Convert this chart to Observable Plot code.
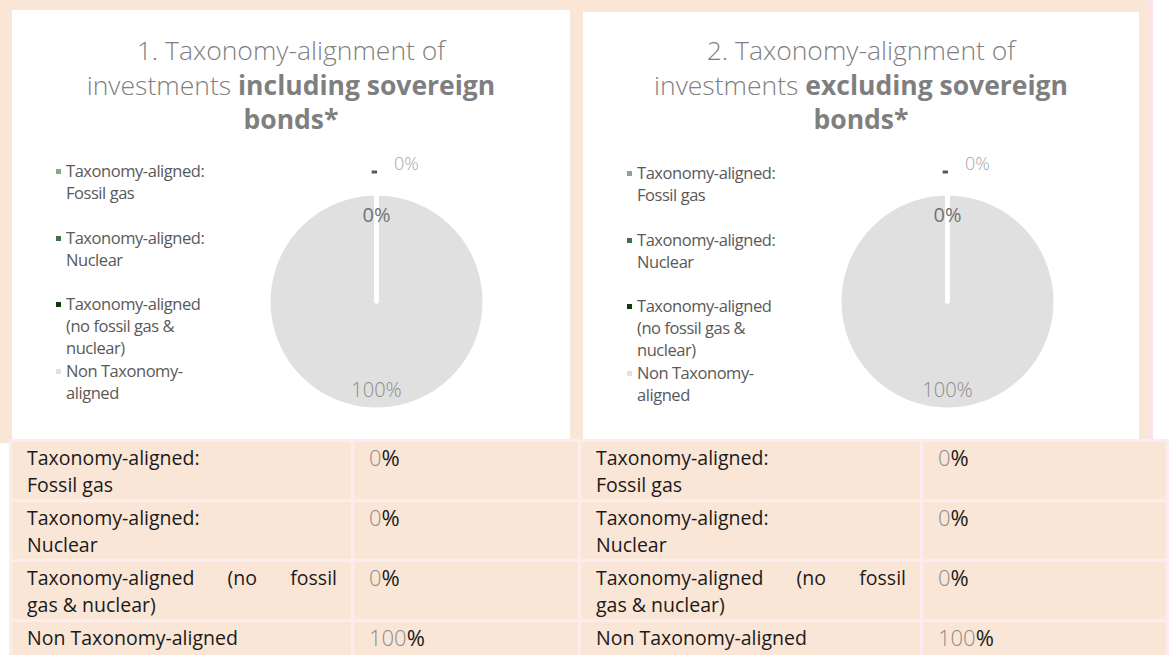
<!DOCTYPE html>
<html><head><meta charset="utf-8">
<script src="https://cdn.jsdelivr.net/npm/d3@7"></script>
<script src="https://cdn.jsdelivr.net/npm/@observablehq/plot@0.6"></script>
<style>
body{margin:0;background:#fff;}
#root{position:relative;width:1173px;height:655px;overflow:hidden;font-family:"Open Sans",sans-serif;background:#fff;}
.box{position:absolute;}
.panel{position:absolute;background:#fff;}
.title{position:absolute;left:0;right:0;text-align:center;font-size:26.5px;line-height:34.5px;color:#7f7f7f;font-weight:300;}
.title b{font-weight:700;}
.legend{position:absolute;left:44px;top:150px;font-size:16.5px;line-height:22px;color:#595959;letter-spacing:-0.45px;}
.item{position:relative;height:66.7px;padding-left:10px;}
.mk{position:absolute;left:0;top:9px;width:5px;height:5px;}
.pie{position:absolute;width:300px;height:300px;}
table{position:absolute;border-collapse:collapse;table-layout:fixed;font-size:19.5px;line-height:27px;color:#1a1a1a;}
td{background:#fae6d6;border:3px solid #fdeced;vertical-align:top;padding:2px 14px 0 15px;height:55px;}
.v0{color:#8c8c8c;font-weight:300;}
</style></head>
<body><div id="root"></div>
<script>
// ---- data ----
const categories = ["Taxonomy-aligned: Fossil gas", "Taxonomy-aligned: Nuclear", "Taxonomy-aligned (no fossil gas & nuclear)", "Non Taxonomy-aligned"];
const legendLines = [["Taxonomy-aligned:", "Fossil gas"], ["Taxonomy-aligned:", "Nuclear"], ["Taxonomy-aligned", "(no fossil gas &", "nuclear)"], ["Non Taxonomy-", "aligned"]];
const tableLines = [["Taxonomy-aligned:", "Fossil gas"], ["Taxonomy-aligned:", "Nuclear"], ["Taxonomy-aligned (no fossil", "gas & nuclear)"], ["Non Taxonomy-aligned"]];
const sliceColors = ["#86a886", "#3f7448", "#0d3d0f", "#e0e0e0"];
const valuesIncluding = [0, 0, 0, 100];
const valuesExcluding = [0, 0, 0, 100];
const titleLight = ["1. Taxonomy-alignment of<br>investments ", "2. Taxonomy-alignment of<br>investments "];
const titleBold = ["including sovereign<br>bonds*", "excluding sovereign<br>bonds*"];
const labelPlacement = ["outside", "hidden", "inside", "inside"];

const root = document.getElementById("root");
function el(tag, cls, style, html){const e=document.createElement(tag); if(cls) e.className=cls; if(style) e.style.cssText=style; if(html!=null) e.innerHTML=html; return e;}

// background frame
root.appendChild(el("div","box","left:0;top:0;width:1148px;height:443px;background:#fae6d6;"));
root.appendChild(el("div","box","left:1148px;top:0;width:5px;height:443px;background:#fde4e4;"));

function pie(values){
  const arcs = d3.pie().sort(null).value(d=>d)(values);
  const pts = [];
  const order = [3,0,1,2];
  order.forEach(i=>{
    const a = arcs[i];
    const n = Math.max(1, Math.ceil((a.endAngle - a.startAngle) / (Math.PI/180)));
    pts.push({cat: categories[i], x: 0, y: 0});
    for (let k=0;k<=n;k++){const t=a.startAngle+(a.endAngle-a.startAngle)*k/n; pts.push({cat:categories[i], x:Math.sin(t), y:Math.cos(t)});}
    pts.push({cat: categories[i], x: 0, y: 0});
  });
  const labels = arcs.map((a,i)=>{const m=(a.startAngle+a.endAngle)/2; return {i, mid:m, text: values[i]+"%", place: labelPlacement[i]};});
  const inside = labels.filter(d=>d.place==="inside");
  const outside = labels.filter(d=>d.place==="outside");
  return Plot.plot({
    width: 300, height: 300, margin: 0,
    x: {domain: [-1.39, 1.39], axis: null},
    y: {domain: [-1.39, 1.39], axis: null},
    color: {domain: categories, range: sliceColors},
    style: {background: "transparent", overflow: "visible"},
    marks: [
      Plot.line(pts, {x: "x", y: "y", z: "cat", fill: "cat", stroke: "white", strokeWidth: 4, strokeLinejoin: "miter"}),
      Plot.text(inside.filter(d=>d.mid<1), {x: d=>0.8*Math.sin(d.mid), y: d=>0.8*Math.cos(d.mid), text: "text", fontSize: 20, fill: "#737373", fontFamily:"Open Sans"}),
      Plot.text(inside.filter(d=>d.mid>=1), {x: d=>0.83*Math.sin(d.mid), y: d=>0.83*Math.cos(d.mid), text: "text", fontSize: 20, fill: "#8c8c8c", fontFamily:"Open Sans", fontWeight: 300, letterSpacing: "0.5px"}),
      Plot.link(outside, {x1: d=>1.2*Math.sin(d.mid)-0.045, x2: d=>1.2*Math.sin(d.mid)+0.005, y1: d=>1.2*Math.cos(d.mid), y2: d=>1.2*Math.cos(d.mid), stroke: "#595959", strokeWidth: 3}),
      Plot.text(outside, {x: d=>1.27*Math.sin(d.mid), y: d=>1.27*Math.cos(d.mid), dx: 30, text: "text", fontSize: 18, fill: "#a6a6a6", fontWeight: 300, fontFamily:"Open Sans", letterSpacing: "3px"})
    ]
  });
}

function panel(idx, left, top, w, h, values){
  const p = el("div","panel",`left:${left}px;top:${top}px;width:${w}px;height:${h}px;`);
  p.appendChild(el("div","title",`top:${50-top-17}px;`, titleLight[idx] + "<b>" + titleBold[idx] + "</b>"));
  const lg = el("div","legend");
  categories.forEach((c,i)=>{
    const it = el("div","item");
    const mk = el("div","mk","background:"+sliceColors[i]+";");
    it.appendChild(mk);
    it.appendChild(el("div",null,null, legendLines[i].join("<br>")));
    lg.appendChild(it);
  });
  p.appendChild(lg);
  const holder = el("div","pie",`left:${364-150}px;top:${301-top-150}px;`);
  holder.appendChild(pie(values));
  p.appendChild(holder);
  root.appendChild(p);
}
panel(0, 12, 10, 558, 430, valuesIncluding);
panel(1, 583, 12, 556, 428, valuesExcluding);

function table(left, width, labelW, values){
  const t = el("table", null, `left:${left}px;top:439px;width:${width}px;`);
  const cg = el("colgroup"); cg.appendChild(el("col",null,`width:${labelW}px`)); cg.appendChild(el("col")); t.appendChild(cg);
  tableLines.forEach((lines,i)=>{
    const tr = el("tr");
    let html;
    if (lines.length>1 && lines[0].includes(" ")) html = `<div style="text-align:justify;text-align-last:justify">${lines[0]}</div><div>${lines[1]}</div>`;
    else html = lines.join("<br>");
    tr.appendChild(el("td",null,null,html));
    tr.appendChild(el("td",null,"font-size:22px;",`<span class="v0">${values[i]}</span>%`));
    t.appendChild(tr);
  });
  root.appendChild(t);
}
table(9, 572, 342, valuesIncluding);
table(578, 591, 342, valuesExcluding);
</script></body></html>
